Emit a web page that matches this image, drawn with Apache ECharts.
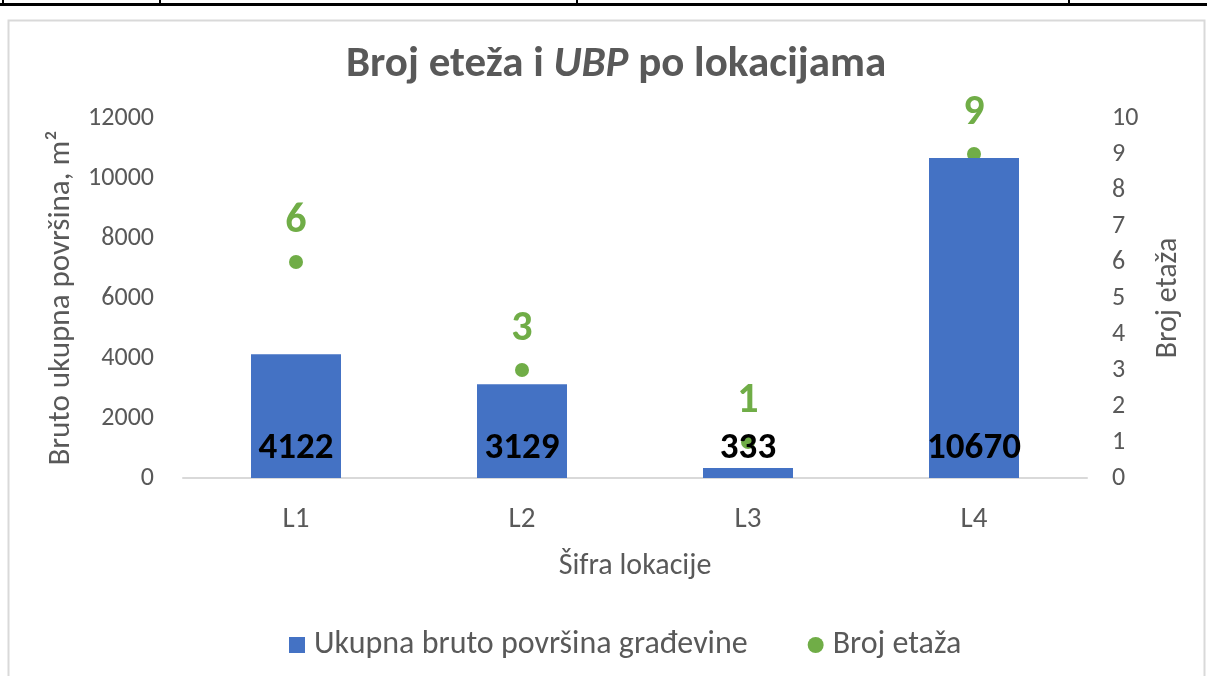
<!DOCTYPE html>
<html>
  <head>
    <meta charset="utf-8" />
    <title>Broj eteža i UBP po lokacijama</title>
    <script src="https://cdn.jsdelivr.net/npm/echarts@6/dist/echarts.min.js"></script>
    <style type="text/css">
      html, body { margin: 0; padding: 0; background: #fff; }
      #main { width: 1207px; height: 676px; }
    </style>
  </head>
  <body>
    <div id="main"></div>
    <script type="text/javascript">
      // podaci
      var lokacije = ["L1", "L2", "L3", "L4"];
      var povrsina = [4122, 3129, 333, 10670];
      var etaze = [6, 3, 1, 9];

      var font = "Carlito, Calibri, Lato, sans-serif";
      var siva = "#595959";

      var myChart = echarts.init(document.getElementById("main"));

      var option = {
        textStyle: { fontFamily: font },
        animation: false,
        // okvir tablice i grafikona
        graphic: [
          { type: "rect", shape: { x: 8.5, y: 20.5, width: 1196, height: 700 }, style: { fill: "none", stroke: "#d9d9d9", lineWidth: 2 }, silent: true },
          { type: "rect", shape: { x: 0, y: 3, width: 1207, height: 3 }, style: { fill: "#000" }, silent: true },
          { type: "rect", shape: { x: 2, y: 0, width: 2, height: 6 }, style: { fill: "#000" }, silent: true },
          { type: "rect", shape: { x: 159, y: 0, width: 2, height: 6 }, style: { fill: "#000" }, silent: true },
          { type: "rect", shape: { x: 576, y: 0, width: 2, height: 6 }, style: { fill: "#000" }, silent: true },
          { type: "rect", shape: { x: 1068, y: 0, width: 2, height: 6 }, style: { fill: "#000" }, silent: true }
        ],
        title: {
          text: "{b|Broj eteža i }{i|UBP}{b| po lokacijama}",
          left: 346,
          top: 44,
          padding: 0,
          textStyle: {
            rich: {
              b: { fontFamily: font, fontSize: 43, fontWeight: "bold", color: siva },
              i: { fontFamily: font, fontSize: 43, fontWeight: "bold", fontStyle: "italic", color: siva }
            }
          }
        },
        grid: { left: 183, right: 120, top: 118, bottom: 198 },
        legend: {
          bottom: 10,
          left: 284,
          itemGap: 60,
          itemWidth: 16,
          itemHeight: 16,
          textStyle: { fontFamily: font, fontSize: 32, color: siva, padding: [0, 0, 0, 4] },
          data: [
            { name: "Ukupna bruto površina građevine", icon: "rect" },
            { name: "Broj etaža", icon: "circle" }
          ]
        },
        xAxis: {
          type: "category",
          data: lokacije,
          name: "Šifra lokacije",
          nameLocation: "middle",
          nameGap: 73,
          nameTextStyle: { fontSize: 30, color: siva },
          axisLine: { lineStyle: { color: "#d9d9d9", width: 2 } },
          axisTick: { show: false },
          axisLabel: { fontSize: 29, color: siva, margin: 27 }
        },
        yAxis: [
          {
            type: "value",
            min: 0,
            max: 12000,
            interval: 2000,
            name: "Bruto ukupna površina, m²",
            nameLocation: "middle",
            nameRotate: 90,
            nameGap: 106,
            nameTextStyle: { fontSize: 31, color: siva },
            splitLine: { show: false },
            axisLine: { show: false },
            axisLabel: {
              fontSize: 26,
              color: siva,
              margin: 29,
              formatter: function (v) { return String(v); }
            }
          },
          {
            type: "value",
            min: 0,
            max: 10,
            interval: 1,
            name: "Broj etaža",
            nameLocation: "middle",
            nameRotate: 90,
            nameGap: 66,
            nameTextStyle: { fontSize: 30, color: siva },
            splitLine: { show: false },
            axisLine: { show: false },
            axisLabel: { fontSize: 26, color: siva, margin: 25 }
          }
        ],
        series: [
          {
            name: "Ukupna bruto površina građevine",
            type: "bar",
            data: povrsina,
            barWidth: 90,
            itemStyle: { color: "#4472c4" },
            label: {
              show: true,
              position: "insideBottom",
              distance: 11,
              fontSize: 37,
              fontWeight: "bold",
              color: "#000"
            },
            z: 2
          },
          {
            name: "Broj etaža",
            type: "scatter",
            yAxisIndex: 1,
            data: etaze,
            symbolSize: 14,
            itemStyle: { color: "#70ad47", opacity: 1 },
            label: {
              show: true,
              position: "top",
              distance: 13,
              fontSize: 42,
              fontWeight: "bold",
              color: "#70ad47"
            },
            z: 1
          }
        ]
      };

      myChart.setOption(option);
    </script>
  </body>
</html>
